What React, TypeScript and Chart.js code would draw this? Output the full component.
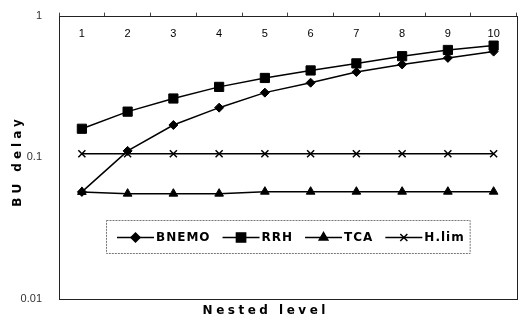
import React, { useEffect, useRef } from 'react';
import { Chart, registerables } from 'chart.js';
import { drawPoint } from 'chart.js/helpers';

Chart.register(...registerables);

const categories = ['1', '2', '3', '4', '5', '6', '7', '8', '9', '10'];
const bnemo = [0.057, 0.111, 0.169, 0.224, 0.286, 0.336, 0.4, 0.452, 0.503, 0.557];
const rrh = [0.159, 0.21, 0.26, 0.314, 0.363, 0.41, 0.46, 0.517, 0.572, 0.614];
const tca = [0.057, 0.0554, 0.0554, 0.0554, 0.0572, 0.0572, 0.0572, 0.0572, 0.0572, 0.0572];
const hlim = [0.106, 0.106, 0.106, 0.106, 0.106, 0.106, 0.106, 0.106, 0.106, 0.106];
const seriesNames = ['BNEMO', 'RRH', 'TCA', 'H.lim'];
const yTicks = [0.01, 0.1, 1];
const yTickLabels = ['0.01', '0.1', '1'];
const xTitle = 'Nested level';
const yTitle = 'BU delay';

const decorPlugin = {
  id: 'decor',
  afterDraw(chart: any) {
    const { ctx, chartArea: a, width } = chart;
    ctx.save();
    // frame
    ctx.strokeStyle = '#222';
    ctx.lineWidth = 1;
    ctx.strokeRect(Math.round(a.left) + 0.5, Math.round(a.top) + 0.5, Math.round(a.right - a.left), Math.round(a.bottom - a.top));

    // legend
    ctx.font = 'bold 12px "DejaVu Sans"';
    (ctx as any).letterSpacing = '1px';
    const lineLen = 37;
    const gap = 12;
    const items = chart.data.datasets.map((ds: any) => ({ ds, w: ctx.measureText(ds.label).width }));
    let total = 0;
    items.forEach((it: any, i: number) => {
      total += lineLen + 2 + it.w + (i < items.length - 1 ? gap : 0);
    });
    const padL = 11, padR = 5;
    const boxW = total + padL + padR;
    const boxH = 33;
    const boxX = Math.round((a.left + a.right) / 2 - boxW / 2);
    const boxY = Math.round(a.bottom - 79);
    ctx.strokeStyle = '#777';
    ctx.lineWidth = 1;
    ctx.setLineDash([2, 1]);
    ctx.strokeRect(boxX + 0.5, boxY + 0.5, boxW, boxH);
    ctx.setLineDash([]);
    const cy = boxY + boxH / 2 + 1;
    let x = boxX + padL;
    items.forEach((it: any) => {
      const ds = it.ds;
      ctx.strokeStyle = '#000';
      ctx.fillStyle = '#000';
      ctx.lineWidth = 1.5;
      ctx.beginPath();
      ctx.moveTo(x, cy);
      ctx.lineTo(x + lineLen, cy);
      ctx.stroke();
      drawPoint(ctx, { pointStyle: ds.pointStyle, rotation: 0, radius: ds.pointRadius, borderWidth: ds.pointBorderWidth }, x + lineLen / 2, cy);
      ctx.fillStyle = '#000';
      ctx.textAlign = 'left';
      ctx.textBaseline = 'middle';
      ctx.fillText(ds.label, x + lineLen + 2, cy);
      x += lineLen + 2 + it.w + gap;
    });

    // axis titles
    ctx.fillStyle = '#000';
    ctx.font = 'bold 12px "DejaVu Sans"';
    ctx.textAlign = 'center';
    ctx.textBaseline = 'middle';
    (ctx as any).letterSpacing = '3.5px';
    ctx.fillText(xTitle, width / 2 + 2 + 1.75, 311);
    ctx.save();
    ctx.translate(18, 159 + 2);
    ctx.rotate(-Math.PI / 2);
    (ctx as any).letterSpacing = '4px';
    ctx.fillText(yTitle, 0, 0);
    ctx.restore();
    (ctx as any).letterSpacing = '0px';
    ctx.restore();
  },
};

export default function App() {
  const ref = useRef<HTMLCanvasElement>(null);
  useEffect(() => {
    const mk = (label: string, data: number[], style: string, r: number) => ({
      label,
      data,
      borderColor: '#000',
      backgroundColor: '#000',
      borderWidth: 1.5,
      pointStyle: style,
      pointRadius: r,
      pointBorderWidth: style === 'crossRot' ? 1.5 : 1,
      pointBackgroundColor: '#000',
      pointBorderColor: '#000',
      xAxisID: 'x',
      yAxisID: 'y',
    });
    const chart = new Chart(ref.current!, {
      type: 'line',
      data: {
        labels: categories,
        datasets: [
          mk(seriesNames[0], bnemo, 'rectRot', 4.5),
          mk(seriesNames[1], rrh, 'rect', 6.5),
          mk(seriesNames[2], tca, 'triangle', 5),
          mk(seriesNames[3], hlim, 'crossRot', 5),
        ],
      },
      options: {
        animation: false,
        responsive: true,
        maintainAspectRatio: false,
        layout: { padding: { left: 0, right: 4, top: 0, bottom: 25 } },
        plugins: { legend: { display: false }, tooltip: { enabled: false } },
        scales: {
          x: {
            type: 'category',
            position: 'top',
            offset: true,
            grid: { display: true, drawOnChartArea: false, drawTicks: true, tickLength: 3, offset: true, color: '#444' },
            border: { display: false },
            ticks: { mirror: true, padding: 12, color: '#000', font: { family: 'Liberation Sans', size: 11 }, maxRotation: 0, autoSkip: false },
            afterFit: (s: any) => { s.height = 13; },
          },
          y: {
            type: 'logarithmic',
            min: 0.01,
            max: 1,
            grid: { display: false },
            border: { display: false },
            afterBuildTicks: (s: any) => { s.ticks = yTicks.map((v) => ({ value: v })); },
            ticks: {
              padding: 9,
              color: '#333',
              font: { family: 'Liberation Sans', size: 11 },
              callback: (v: any) => { const i = yTicks.indexOf(Number(v)); return i >= 0 ? yTickLabels[i] : ''; },
            },
            afterFit: (s: any) => { s.width = 59; },
          },
        },
      },
      plugins: [decorPlugin],
    } as any);
    return () => chart.destroy();
  }, []);
  return (
    <div style={{ position: 'fixed', left: 0, top: 0, width: 524, height: 324, background: '#fff' }}>
      <canvas ref={ref} />
    </div>
  );
}
